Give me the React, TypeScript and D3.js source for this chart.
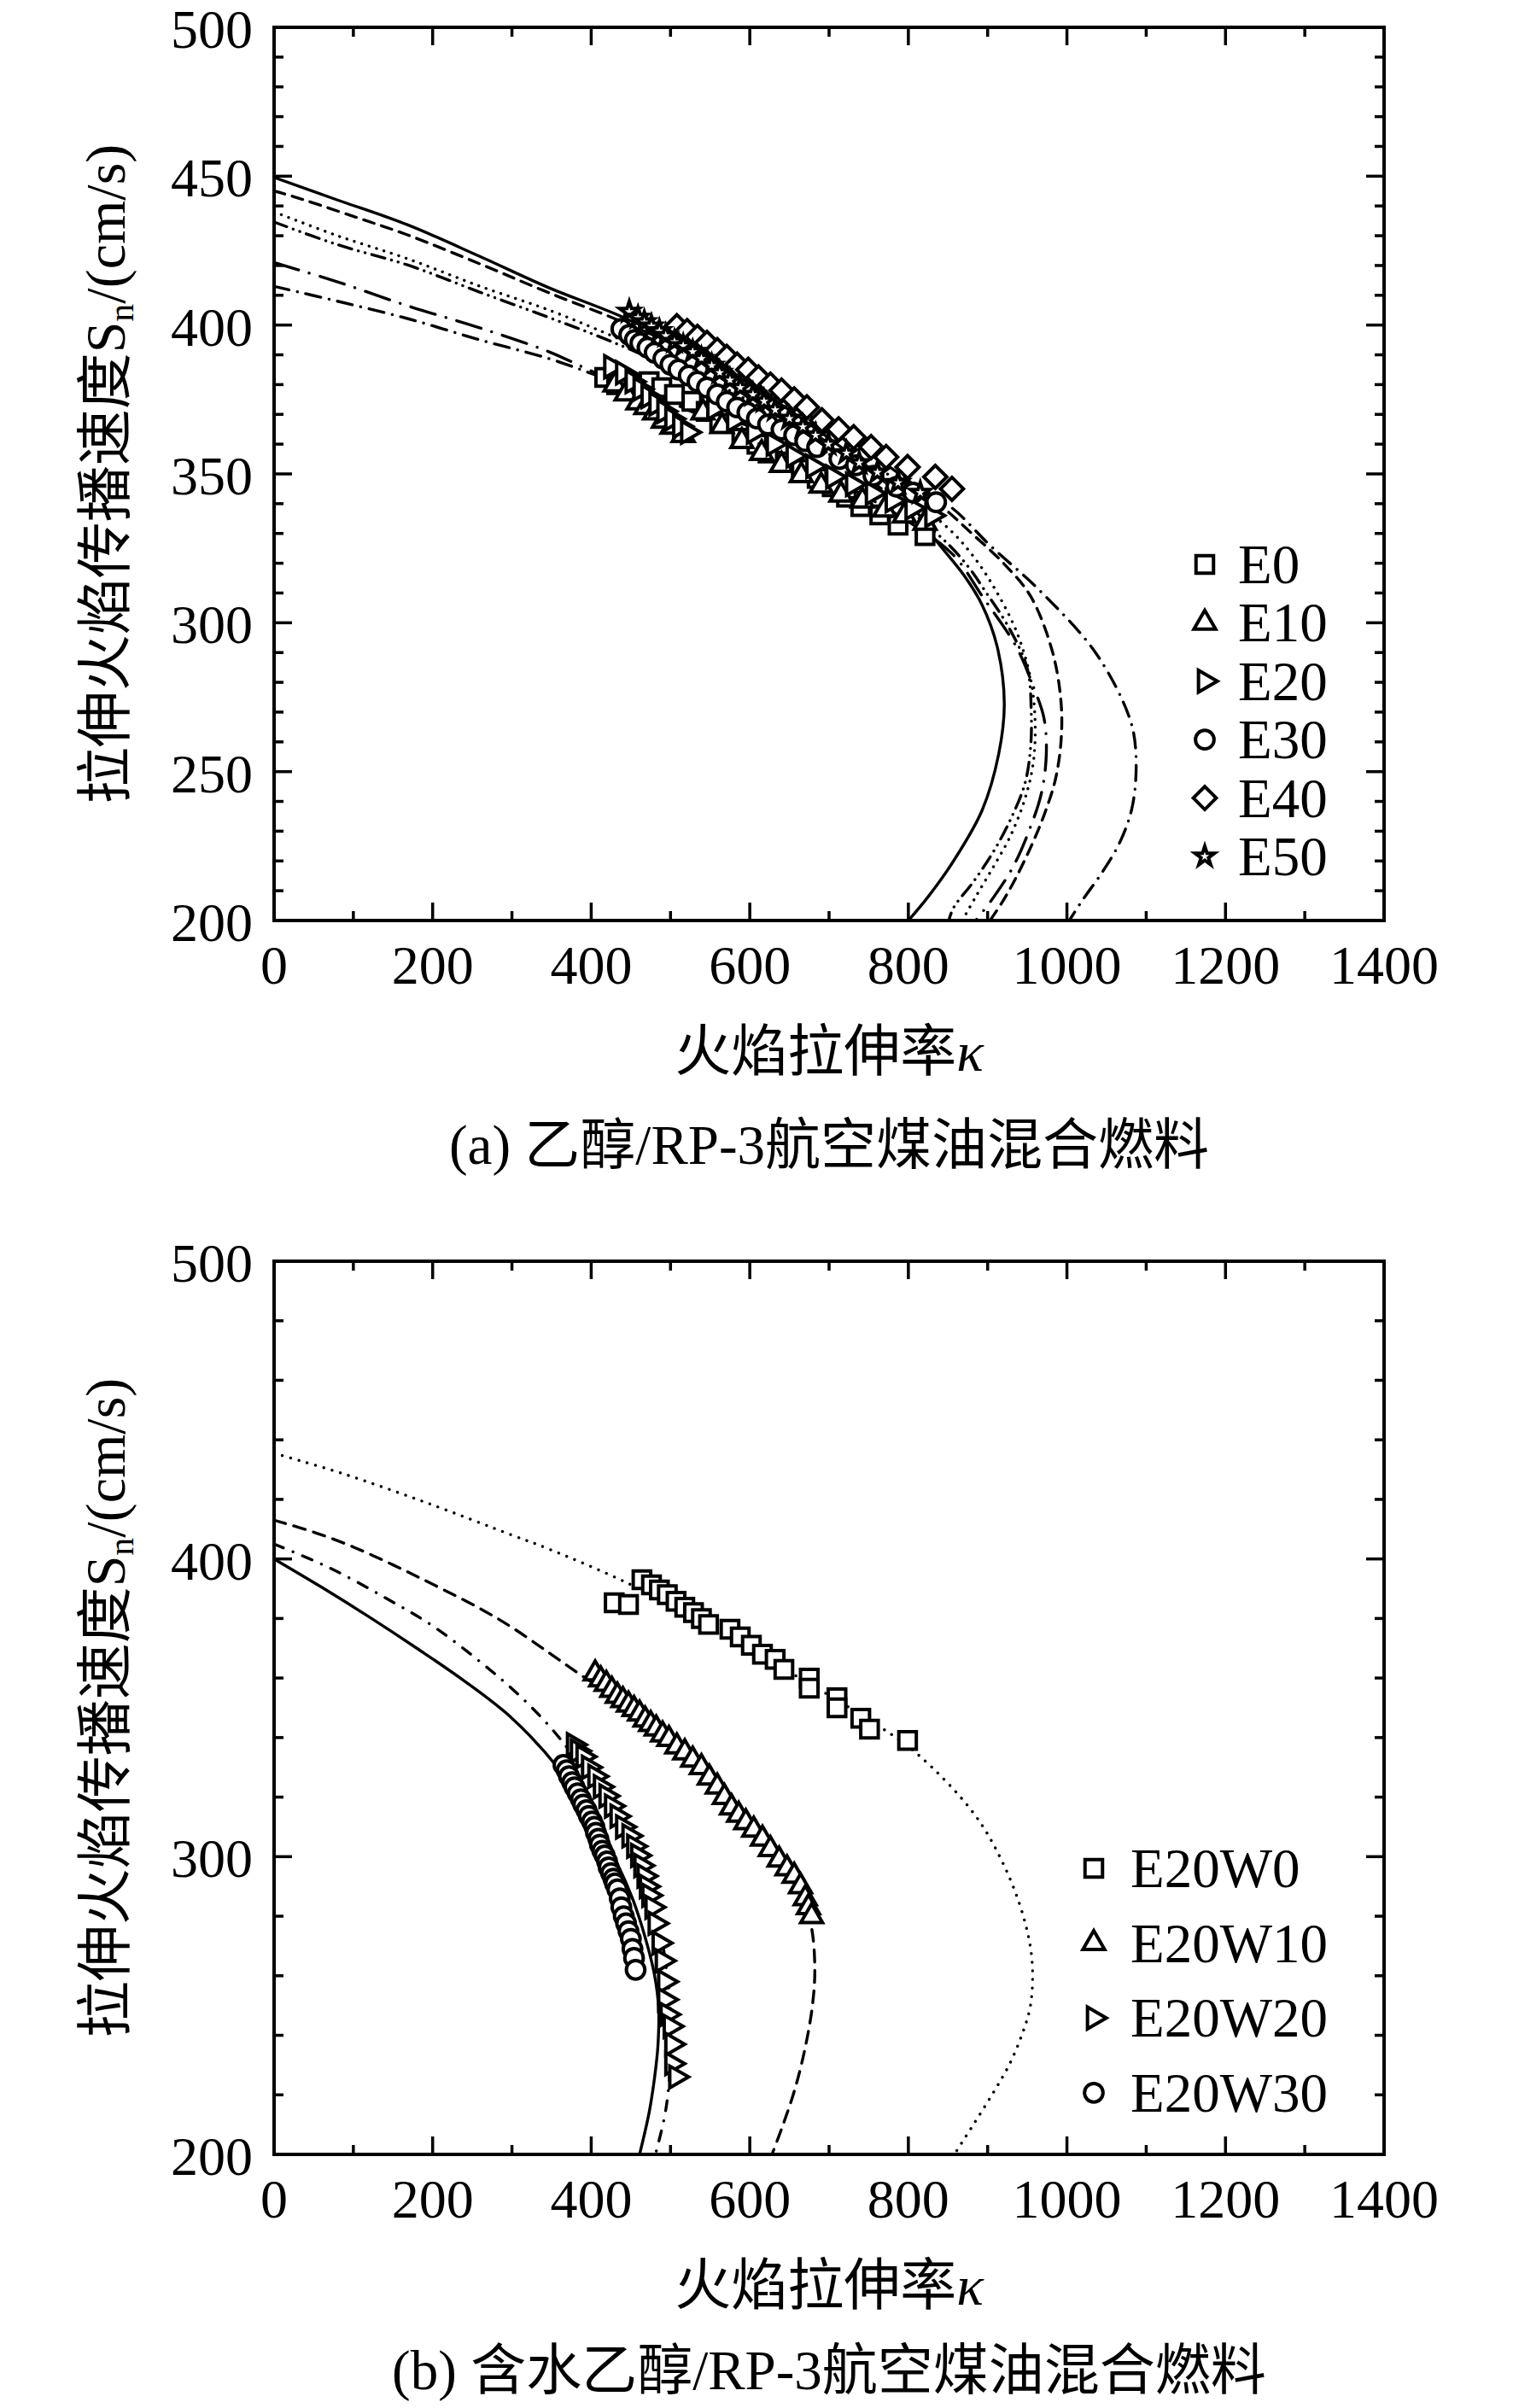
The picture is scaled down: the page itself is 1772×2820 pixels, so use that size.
import * as d3 from 'd3';

type Pt = [number, number];

// ---------- data ----------
const X_TICKS = [0, 200, 400, 600, 800, 1000, 1200, 1400];
const Y_TICKS_A = [200, 250, 300, 350, 400, 450, 500];
const Y_TICKS_B = [200, 300, 400, 500];

const LABELS_A = ['E0', 'E10', 'E20', 'E30', 'E40', 'E50'];
const LABELS_B = ['E20W0', 'E20W10', 'E20W20', 'E20W30'];

// (a) fitted curves, kappa vs Sn
const A_FIT_SOLID: Pt[] = [[0, 449.6], [80, 442], [168, 433.7], [260, 423], [347, 412.5], [437, 403], [530, 391], [630, 375], [730, 356], [800, 341], [831, 329], [870, 316], [893, 306], [912, 292], [921, 273], [914, 256], [893, 237], [857, 220], [825, 208], [800, 200]];
const A_FIT_DASH: Pt[] = [[0, 445], [24, 443.2], [100, 436.5], [168, 430.3], [260, 420.5], [347, 410.8], [440, 401], [540, 389], [640, 375], [740, 359], [838, 340], [880, 330], [920, 320], [954, 309], [981, 291], [992, 275], [993, 262], [986, 248], [972, 236], [955, 225], [935, 214], [918, 206], [903, 200]];
const A_FIT_DOT: Pt[] = [[0, 438], [80, 430], [168, 422.3], [260, 413], [347, 405], [426, 396.4], [530, 384], [630, 370], [740, 353], [845, 333], [880, 323], [910, 311], [938, 296], [955, 280], [960, 265], [957, 252], [946, 240], [928, 228], [905, 217], [885, 208], [868, 200]];
const A_FIT_DASHDOTDOT: Pt[] = [[0, 434.6], [80, 427], [168, 420.2], [260, 411], [347, 402.5], [426, 394.4], [530, 382], [630, 367], [740, 350], [842, 328.5], [875, 319], [896, 311], [928, 297.8], [950, 284.6], [955, 270], [954, 257.7], [947, 246], [929, 234], [907, 223], [882, 213], [857, 204.3], [851, 200]];
const A_FIT_LONGDASHDOT: Pt[] = [[0, 421], [80, 414.5], [168, 406.5], [260, 399], [347, 391], [401, 384.5], [500, 374], [600, 362], [700, 349], [800, 334], [857, 322.7], [893, 309], [936, 292], [957, 279], [971, 268], [974, 256], [968, 243], [952, 230], [932, 218], [908, 208], [885, 200]];
const A_FIT_DASHDOT: Pt[] = [[0, 413], [80, 408], [168, 402.2], [260, 395], [347, 388.7], [408, 383], [500, 374.5], [600, 366], [700, 357], [800, 347], [853, 339], [903, 326], [965, 311], [1036, 290], [1079, 268], [1087, 256], [1083, 239], [1068, 227], [1044, 216], [1020, 207], [1003, 200]];

// (a) measured points
const A_E0: Pt[] = [[417, 382.4], [432, 380], [447, 380.5], [473, 381], [489, 379], [505, 376.7], [527, 374.4], [545, 371], [562, 367], [590, 362], [609, 360], [623, 357], [645, 354], [665, 351.5], [685, 348.5], [704, 345.7], [722, 342.2], [740, 339], [764, 336.2], [787, 332.8], [821, 329.3]];
const A_E10: Pt[] = [[430, 380], [444, 377], [459, 374], [469, 372.4], [480, 370.6], [491, 367.8], [502, 365.8], [516, 363], [541, 370.6], [565, 366], [590, 361], [615, 357], [640, 353], [665, 349.5], [690, 346], [715, 343], [742, 341], [770, 338], [795, 336], [821, 333.5]];
const A_E20: Pt[] = [[425, 386], [440, 384], [452, 381], [462, 378.5], [472, 376], [482, 373.5], [492, 371], [502, 368.5], [512, 366], [522, 364], [555, 372], [580, 368], [605, 364], [630, 360], [655, 356], [680, 352.5], [705, 349], [730, 346.5], [755, 343.5], [780, 341], [805, 338.5], [830, 336]];
const A_E30: Pt[] = [[438, 398.7], [448, 396.7], [455, 395], [462, 393.9], [471, 392.4], [480, 390.7], [491, 388.7], [500, 386.7], [510, 385], [523, 383], [534, 381], [546, 379], [559, 376.7], [571, 374.3], [584, 372.3], [597, 370.6], [609, 368.6], [623, 366.6], [640, 364.9], [656, 363], [670, 361], [685, 359], [713, 355], [734, 352.9], [756, 349.4], [785, 345.7], [806, 343.7], [835, 340.5]];
const A_E40: Pt[] = [[508, 399.6], [521, 398], [534, 396], [546, 394], [559, 391.6], [571, 389.3], [584, 386.7], [598, 385], [611, 382.4], [626, 380], [640, 378], [656, 375], [672, 372.4], [691, 368], [712, 365], [731, 362.3], [753, 359], [772, 355.7], [799, 352.3], [834, 349], [855, 345]];
const A_E50: Pt[] = [[448, 404.5], [459, 402.5], [467, 401], [476, 399.6], [486, 398], [494, 396.4], [505, 394.4], [516, 393], [528, 391], [539, 388.7], [552, 386.4], [562, 384], [575, 381.5], [588, 379], [604, 376.6], [618, 374.4], [632, 371.5], [650, 368.6], [667, 365.8], [683, 363], [699, 360], [722, 357], [738, 353.7], [761, 350.5], [787, 347], [815, 343.7]];

// (b) fitted curves
const B_FIT_DOT: Pt[] = [[0, 435.5], [85, 428.8], [193, 418.8], [300, 408], [344, 403.6], [448, 391.6], [550, 377], [650, 362], [750, 346], [810, 334.8], [882, 314.7], [919, 298], [945, 280], [956, 265], [954, 250], [943, 240], [927, 230], [907, 220.7], [882, 210], [858, 200]];
const B_FIT_DASH: Pt[] = [[0, 413], [50, 409], [100, 404], [150, 398], [200, 391.5], [262, 383], [300, 377], [344, 369], [387, 361], [433, 353], [480, 343.5], [520, 335], [560, 324], [600, 311], [640, 298.5], [665, 288], [678, 276], [682, 262], [679, 250], [670, 236], [657, 222], [642, 210], [628, 200]];
const B_FIT_DASHDOT: Pt[] = [[0, 405], [70, 397], [140, 387], [200, 377.5], [262, 365], [310, 354], [350, 343], [380, 333], [420, 319], [450, 306], [470, 293], [485, 278], [495, 262], [500, 248], [500, 235], [497, 221], [492, 212], [481, 200]];
const B_FIT_SOLID: Pt[] = [[0, 400], [60, 390.5], [120, 380.5], [180, 370], [240, 359], [300, 346.5], [359, 329.5], [400, 313], [432, 298], [452, 286], [469, 272], [480, 260], [485, 249], [484, 236], [480, 226], [473, 214], [461, 200]];

// (b) measured points
const B_W0: Pt[] = [[429, 385.3], [447, 384.7], [464, 393], [476, 391.3], [486, 389.6], [496, 388], [507, 385.8], [518, 383.8], [529, 382], [539, 380], [548, 378], [575, 376.4], [588, 373.8], [602, 371], [616, 368], [632, 366.3], [643, 362.9], [675, 360], [675, 356.6], [710, 353.4], [710, 350], [740, 346.5], [751, 342.8], [799, 339]];
const B_W10: Pt[] = [[405, 361.5], [412, 359.5], [419, 358], [426, 356], [433, 354], [440, 352.5], [447, 351], [454, 349.5], [461, 348], [468, 346], [475, 344.5], [482, 343], [490, 341], [498, 339.5], [508, 337], [518, 335], [528, 332.5], [539, 330], [549, 326.5], [559, 323.5], [568, 320], [577, 316.5], [586, 314], [595, 311.5], [605, 309], [616, 306], [626, 302.5], [637, 299], [647, 296], [656, 293.5], [664, 290], [670, 286], [674, 283], [678, 280]];
const B_W20: Pt[] = [[378, 337.6], [383, 335.5], [390, 333.6], [397, 330], [405, 327], [412, 323.5], [419, 320.4], [426, 317], [433, 313.6], [440, 310], [448, 307], [454, 303.5], [459, 300.4], [463, 297], [467, 293.5], [470, 290], [473, 287], [477, 283], [481, 277.6], [486, 271], [490, 265], [493, 258], [493, 252], [496, 247], [500, 243], [502, 237], [502, 230.5], [507, 226]];
const B_W30: Pt[] = [[365, 330.8], [369, 329], [372, 327], [376, 325], [379, 323.3], [383, 321.3], [387, 319.3], [390, 317.5], [394, 315.6], [397, 313.7], [401, 311.8], [404, 310], [406, 308], [409, 306], [411, 304], [414, 302], [417, 300.4], [420, 298.4], [422, 296.4], [425, 294.5], [428, 292.6], [430, 291], [433, 289], [436, 286], [438, 283], [441, 280], [444, 277.6], [447, 275], [450, 272.4], [452, 269], [454, 266], [456, 262]];

// ---------- look ----------
const FONT = '"Liberation Serif", "Times New Roman", "Noto Sans CJK SC", serif';
const PLOT_L = 321;
const PLOT_R = 1621;

const SYM: Record<string, string> = {
  square: d3.symbol(d3.symbolSquare, 420)() as string,
  triUp: d3.symbol(d3.symbolTriangle, 280)() as string,
  triRight: d3.symbol(d3.symbolTriangle, 280)() as string,
  circle: d3.symbol(d3.symbolCircle, 370)() as string,
  diamond: d3.symbol(d3.symbolSquare, 360)() as string,
  star: d3.symbol(d3.symbolStar, 380)() as string,
  starInner: d3.symbol(d3.symbolStar, 34)() as string,
};
const ROT: Record<string, number> = { triRight: 90, diamond: 45 };

const Marker = ({ kind, x, y }: { kind: string; x: number; y: number }) => {
  if (kind === 'star') {
    return (
      <g transform={`translate(${x},${y})`}>
        <path d={SYM.star} fill="#000" />
        <path d={SYM.starInner} fill="#fff" />
      </g>
    );
  }
  return (
    <path
      d={SYM[kind]}
      transform={`translate(${x},${y}) rotate(${ROT[kind] || 0})`}
      fill="#fff"
      stroke="#000"
      strokeWidth={4}
      strokeLinejoin="miter"
    />
  );
};

interface PanelProps {
  id: string;
  top: number;
  bottom: number;
  yTicks: number[];
  yMinor: number;
  curves: Pt[][];
  dashes: string[];
  series: Pt[][];
  symbols: string[];
  labels: string[];
  legendX: number;
  legendTextX: number;
  legendY0: number;
  legendDy: number;
  caption: string;
  captionY: number;
}

const Panel = (p: PanelProps) => {
  const x = d3.scaleLinear().domain([0, 1400]).range([PLOT_L, PLOT_R]);
  const y = d3.scaleLinear().domain([200, 500]).range([p.bottom, p.top]);
  const line = d3
    .line<Pt>()
    .x(d => x(d[0]))
    .y(d => y(d[1]))
    .curve(d3.curveCatmullRom.alpha(0.5));

  const xMinor = d3.range(0, 1401, 100);
  const yMinor = d3.range(200, 501, p.yMinor);
  const midX = (PLOT_L + PLOT_R) / 2;
  const midY = (p.top + p.bottom) / 2;

  return (
    <g>
      <defs>
        <clipPath id={p.id}>
          <rect x={PLOT_L} y={p.top} width={PLOT_R - PLOT_L} height={p.bottom - p.top} />
        </clipPath>
      </defs>

      {/* fitted curves */}
      <g clipPath={`url(#${p.id})`}>
        {p.curves.map((c, i) => (
          <path
            key={i}
            d={line(c) as string}
            fill="none"
            stroke="#000"
            strokeWidth={3.4}
            strokeDasharray={p.dashes[i]}
            strokeLinecap={p.dashes[i] ? 'round' : 'butt'}
          />
        ))}
      </g>

      {/* measured points */}
      {p.series.map((s, i) =>
        s.map((d, j) => <Marker key={`${i}-${j}`} kind={p.symbols[i]} x={x(d[0])} y={y(d[1])} />)
      )}

      {/* ticks */}
      {xMinor.map(v => {
        const len = v % 200 === 0 ? 21 : 11;
        return (
          <g key={`xt${v}`} stroke="#000" strokeWidth={3.5}>
            <line x1={x(v)} x2={x(v)} y1={p.bottom} y2={p.bottom - len} />
            <line x1={x(v)} x2={x(v)} y1={p.top} y2={p.top + len} />
          </g>
        );
      })}
      {yMinor.map(v => {
        const len = p.yTicks.includes(v) ? 21 : 11;
        return (
          <g key={`yt${v}`} stroke="#000" strokeWidth={3.5}>
            <line x1={PLOT_L} x2={PLOT_L + len} y1={y(v)} y2={y(v)} />
            <line x1={PLOT_R} x2={PLOT_R - len} y1={y(v)} y2={y(v)} />
          </g>
        );
      })}
      <rect
        x={PLOT_L}
        y={p.top}
        width={PLOT_R - PLOT_L}
        height={p.bottom - p.top}
        fill="none"
        stroke="#000"
        strokeWidth={4}
      />

      {/* tick labels */}
      <g fontFamily={FONT} fontSize={64} fill="#000">
        {X_TICKS.map(v => (
          <text key={`xl${v}`} x={x(v)} y={p.bottom + 74} textAnchor="middle">
            {v}
          </text>
        ))}
        {p.yTicks.map(v => (
          <text key={`yl${v}`} x={296} y={y(v) + 24} textAnchor="end">
            {v}
          </text>
        ))}
      </g>

      {/* axis titles */}
      <text x={midX} y={p.bottom + 176} textAnchor="middle" fontFamily={FONT} fontSize={66}>
        火焰拉伸率<tspan fontStyle="italic">κ</tspan>
      </text>
      <text
        transform={`translate(146,${midY}) rotate(-90)`}
        textAnchor="middle"
        fontFamily={FONT}
        fontSize={66}
      >
        拉伸火焰传播速度S
        <tspan fontSize={42} dy={10}>n</tspan>
        <tspan dy={-10}>/(cm/s)</tspan>
      </text>

      {/* legend */}
      {p.labels.map((lab, i) => {
        const ly = p.legendY0 + i * p.legendDy;
        return (
          <g key={lab}>
            <Marker kind={p.symbols[i]} x={p.legendX} y={ly} />
            <text x={p.legendTextX} y={ly + 22} fontFamily={FONT} fontSize={65}>
              {lab}
            </text>
          </g>
        );
      })}

      {/* caption */}
      <text x={midX} y={p.captionY} textAnchor="middle" fontFamily={FONT} fontSize={65}>
        {p.caption}
      </text>
    </g>
  );
};

const App = () => (
  <svg
    width={1772}
    height={2820}
    viewBox="0 0 1772 2820"
    style={{ position: 'absolute', left: 0, top: 0, background: '#fff' }}
  >
    <rect width={1772} height={2820} fill="#fff" />
    <Panel
      id="clipA"
      top={32}
      bottom={1078}
      yTicks={Y_TICKS_A}
      yMinor={10}
      curves={[A_FIT_SOLID, A_FIT_DASH, A_FIT_DOT, A_FIT_DASHDOTDOT, A_FIT_LONGDASHDOT, A_FIT_DASHDOT]}
      dashes={['', '13 9', '0.1 9', '16 8 0.1 8 0.1 8', '30 13 0.1 13', '18 10 0.1 10']}
      series={[A_E0, A_E10, A_E20, A_E30, A_E40, A_E50]}
      symbols={['square', 'triUp', 'triRight', 'circle', 'diamond', 'star']}
      labels={LABELS_A}
      legendX={1411}
      legendTextX={1450}
      legendY0={661}
      legendDy={68.4}
      caption="(a) 乙醇/RP-3航空煤油混合燃料"
      captionY={1363}
    />
    <Panel
      id="clipB"
      top={1477}
      bottom={2523}
      yTicks={Y_TICKS_B}
      yMinor={20}
      curves={[B_FIT_DOT, B_FIT_DASH, B_FIT_DASHDOT, B_FIT_SOLID]}
      dashes={['0.1 10', '14 10', '12 12 0.1 12', '']}
      series={[B_W0, B_W10, B_W20, B_W30]}
      symbols={['square', 'triUp', 'triRight', 'circle']}
      labels={LABELS_B}
      legendX={1281}
      legendTextX={1324}
      legendY0={2188}
      legendDy={87.6}
      caption="(b) 含水乙醇/RP-3航空煤油混合燃料"
      captionY={2798}
    />
  </svg>
);

export default App;
